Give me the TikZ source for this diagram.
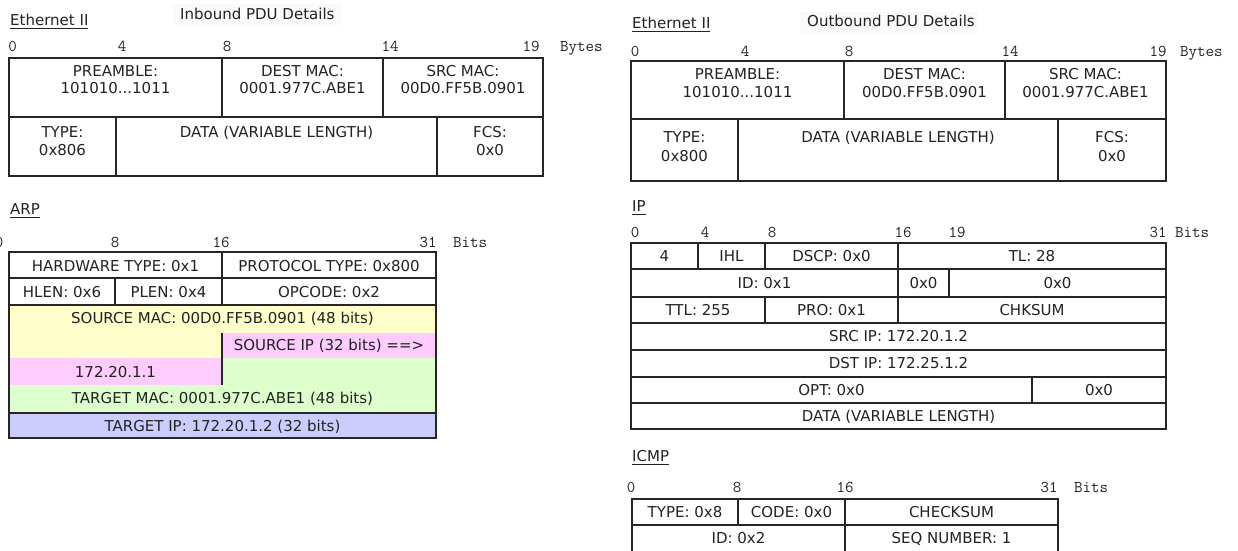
\documentclass[tikz,border=0pt]{standalone}
\usepackage{fontspec}
\setmainfont{DejaVu Sans}
\definecolor{ink}{HTML}{222222}
\definecolor{arpyel}{HTML}{FFFFCC}
\definecolor{arppink}{HTML}{FFCCFF}
\definecolor{arpgreen}{HTML}{DDFFCC}
\definecolor{arpblue}{HTML}{CCCCFF}
\definecolor{titlebg}{HTML}{F9FAFC}
\def\myul#1{\setbox0\hbox{#1}\rlap{\rule[-4pt]{\wd0}{1.1pt}}\box0}
\tikzset{
  txt/.style={inner sep=0pt, text height=10.9pt, text depth=0pt, text=ink, font=\fontsize{15}{18}\selectfont},
  rul/.style={inner sep=0pt, text height=9.5pt, text depth=0pt, text=ink, font=\ttfamily\fontsize{16.5}{19}\selectfont},
  hdr/.style={inner sep=0pt, anchor=base west, text=ink, font=\fontsize{15}{18}\selectfont},
  outerline/.style={draw=black!85, line width=1.2pt},
  innerline/.style={draw=black!85, line width=1.8pt},
}
\begin{document}
\begin{tikzpicture}[x=1pt, y=-1pt]
\useasboundingbox (0,0) rectangle (1238,550);

% ================= Inbound Ethernet =================
\fill[titlebg] (173,4) rectangle (342,25);
\node[txt, anchor=west] (inT) at (180,14.5) {Inbound PDU Details};
\node[hdr] (inEth) at (10,25) {\myul{Ethernet II}};
\node[rul] (inR0) at (12.5,47) {0};
\node[rul] (inR4) at (122,47) {4};
\node[rul] (inR8) at (227,47) {8};
\node[rul] (inR14) at (390,47) {14};
\node[rul] (inR19) at (531,47) {19};
\node[rul, anchor=west] (inRB) at (560,47) {Bytes};
\draw[innerline] (9,117) -- (543,117);
\draw[innerline] (222,58) -- (222,117) (383,58) -- (383,117);
\draw[innerline] (116,117) -- (116,176) (437,117) -- (437,176);
\draw[outerline] (9,58) rectangle (543,176);
\node[txt] (inPa) at (115.5,71) {PREAMBLE:};
\node[txt] (inPb) at (115.5,88) {101010...1011};
\node[txt] (inDa) at (302.5,71) {DEST MAC:};
\node[txt] (inDb) at (302.5,88) {0001.977C.ABE1};
\node[txt] (inSa) at (463,71) {SRC MAC:};
\node[txt] (inSb) at (463,88) {00D0.FF5B.0901};
\node[txt] (inTa) at (62.5,132) {TYPE:};
\node[txt] (inTb) at (62.5,150) {0x806};
\node[txt] (inDat) at (276.5,132) {DATA (VARIABLE LENGTH)};
\node[txt] (inFa) at (490,132) {FCS:};
\node[txt] (inFb) at (490,150) {0x0};

% ================= Outbound Ethernet =================
\fill[titlebg] (800,12) rectangle (978,33);
\node[txt, anchor=west] (outT) at (807,21) {Outbound PDU Details};
\node[hdr] (outEth) at (632,28) {\myul{Ethernet II}};
\node[rul] (outR0) at (635,52) {0};
\node[rul] (outR4) at (745,52) {4};
\node[rul] (outR8) at (849,52) {8};
\node[rul] (outR14) at (1010,52) {14};
\node[rul] (outR19) at (1158,52) {19};
\node[rul, anchor=west] (outRB) at (1180,52) {Bytes};
\draw[innerline] (631,119) -- (1166,119);
\draw[innerline] (844,61) -- (844,119) (1005,61) -- (1005,119);
\draw[innerline] (738,119) -- (738,181) (1058,119) -- (1058,181);
\draw[outerline] (631,61) rectangle (1166,181);
\node[txt] (outPa) at (737.5,74) {PREAMBLE:};
\node[txt] (outPb) at (737.5,92) {101010...1011};
\node[txt] (outDa) at (924.5,74) {DEST MAC:};
\node[txt] (outDb) at (924.5,92) {00D0.FF5B.0901};
\node[txt] (outSa) at (1085.5,74) {SRC MAC:};
\node[txt] (outSb) at (1085.5,92) {0001.977C.ABE1};
\node[txt] (outTa) at (684.5,137) {TYPE:};
\node[txt] (outTb) at (684.5,156) {0x800};
\node[txt] (outDat) at (898,137) {DATA (VARIABLE LENGTH)};
\node[txt] (outFa) at (1112,137) {FCS:};
\node[txt] (outFb) at (1112,156) {0x0};

% ================= ARP =================
\node[hdr] (arpH) at (10,214) {\myul{ARP}};
\node[rul] (arpR0) at (-1,243) {0};
\node[rul] (arpR8) at (115,243) {8};
\node[rul] (arpR16) at (221,243) {16};
\node[rul] (arpR31) at (428,243) {31};
\node[rul, anchor=west] (arpRB) at (453,243) {Bits};
\fill[arpyel] (9,305) rectangle (436,333) (9,333) rectangle (222,358);
\fill[arppink] (222,333) rectangle (436,358) (9,358) rectangle (222,385);
\fill[arpgreen] (222,358) rectangle (436,385) (9,385) rectangle (436,413);
\fill[arpblue] (9,413) rectangle (436,438);
\draw[innerline] (9,278) -- (436,278) (9,305) -- (436,305);
\draw[outerline] (9,413) -- (436,413);
\draw[innerline] (222,252) -- (222,305) (115,278) -- (115,305);
\draw[outerline] (222,333) -- (222,385);
\draw[outerline] (9,252) rectangle (436,438);
\node[txt] (arpHW) at (115.5,266) {HARDWARE TYPE: 0x1};
\node[txt] (arpPT) at (329,266) {PROTOCOL TYPE: 0x800};
\node[txt] (arpHL) at (62,292) {HLEN: 0x6};
\node[txt] (arpPL) at (168.5,292) {PLEN: 0x4};
\node[txt] (arpOP) at (329,292) {OPCODE: 0x2};
\node[txt] (arpSM) at (222.5,318) {SOURCE MAC: 00D0.FF5B.0901 (48 bits)};
\node[txt] (arpSI) at (329,345) {SOURCE IP (32 bits) ==>};
\node[txt] (arpSIb) at (115.5,372) {172.20.1.1};
\node[txt] (arpTM) at (222.5,398) {TARGET MAC: 0001.977C.ABE1 (48 bits)};
\node[txt] (arpTI) at (222.5,426) {TARGET IP: 172.20.1.2 (32 bits)};

% ================= IP =================
\node[hdr] (ipH) at (632,211) {\myul{IP}};
\node[rul] (ipR0) at (635,233) {0};
\node[rul] (ipR4) at (705,233) {4};
\node[rul] (ipR8) at (772,233) {8};
\node[rul] (ipR16) at (903,233) {16};
\node[rul] (ipR19) at (957,233) {19};
\node[rul] (ipR31) at (1158,233) {31};
\node[rul, anchor=west] (ipRB) at (1175,233) {Bits};
\draw[innerline] (631,269) -- (1166,269) (631,297) -- (1166,297) (631,323) -- (1166,323)
  (631,350) -- (1166,350) (631,377) -- (1166,377) (631,403) -- (1166,403);
\draw[innerline] (698,243) -- (698,269) (765,243) -- (765,269) (898,243) -- (898,269);
\draw[innerline] (898,269) -- (898,297) (949,269) -- (949,297);
\draw[innerline] (765,297) -- (765,323) (898,297) -- (898,323);
\draw[innerline] (1032,377) -- (1032,403);
\draw[outerline] (631,243) rectangle (1166,429);
\node[txt] (ipV) at (664.5,256) {4};
\node[txt] (ipIHL) at (731.5,256) {IHL};
\node[txt] (ipDS) at (831.5,256) {DSCP: 0x0};
\node[txt] (ipTL) at (1032,256) {TL: 28};
\node[txt] (ipID) at (764.5,283) {ID: 0x1};
\node[txt] (ipFl) at (923.5,283) {0x0};
\node[txt] (ipFo) at (1057.5,283) {0x0};
\node[txt] (ipTTL) at (698,310) {TTL: 255};
\node[txt] (ipPRO) at (831.5,310) {PRO: 0x1};
\node[txt] (ipCK) at (1032,310) {CHKSUM};
\node[txt] (ipSRC) at (898.5,336.5) {SRC IP: 172.20.1.2};
\node[txt] (ipDST) at (898.5,363.5) {DST IP: 172.25.1.2};
\node[txt] (ipOPT) at (831.5,390) {OPT: 0x0};
\node[txt] (ipPad) at (1099,390) {0x0};
\node[txt] (ipDat) at (898.5,416) {DATA (VARIABLE LENGTH)};

% ================= ICMP =================
\node[hdr] (icH) at (632,461) {\myul{ICMP}};
\node[rul] (icR0) at (631,488) {0};
\node[rul] (icR8) at (737,488) {8};
\node[rul] (icR16) at (845,488) {16};
\node[rul] (icR31) at (1049,488) {31};
\node[rul, anchor=west] (icRB) at (1074,488) {Bits};
\draw[innerline] (632,525) -- (1058,525);
\draw[innerline] (738,499) -- (738,525) (845,499) -- (845,560);
\draw[outerline] (632,560) -- (632,499) -- (1058,499) -- (1058,560);
\node[txt] (icT) at (685,512) {TYPE: 0x8};
\node[txt] (icC) at (791.5,512) {CODE: 0x0};
\node[txt] (icCK) at (951.5,512) {CHECKSUM};
\node[txt] (icID) at (738.5,538) {ID: 0x2};
\node[txt] (icSEQ) at (951.5,538) {SEQ NUMBER: 1};
\end{tikzpicture}
\end{document}
